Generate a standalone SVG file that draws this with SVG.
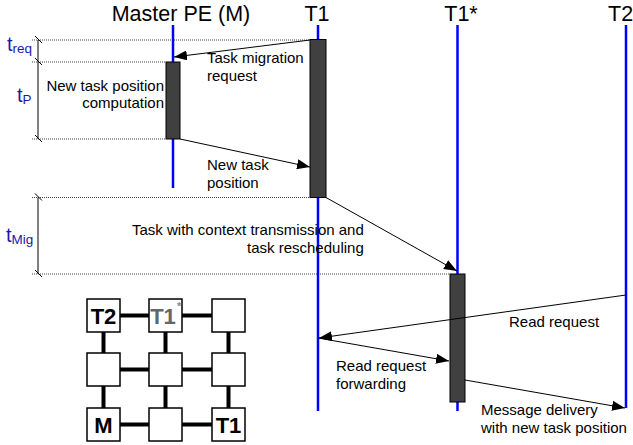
<svg xmlns="http://www.w3.org/2000/svg" width="633" height="445" viewBox="0 0 633 445">
  <defs>
    <style>
      .life { stroke: #0000ff; stroke-width: 2.5; fill: none; }
      .bar { fill: #404040; stroke: #000; stroke-width: 1; }
      .msg { stroke: #000; stroke-width: 1; fill: none; marker-end: url(#arrow); }
      .dot { stroke: #444; stroke-width: 1; stroke-dasharray: 1 1; fill: none; }
      .dim { stroke: #000; stroke-width: 1; fill: none; }
      .head { font-family: "Liberation Sans", Arial, sans-serif; font-size: 21.5px; fill: #000; }
      .lbl { font-family: "Liberation Sans", Arial, sans-serif; font-size: 15px; fill: #000; }
      .tm { font-family: "Liberation Sans", Arial, sans-serif; fill: #1a1aa8; }
      .tbig { font-size: 20px; }
      .tsub { font-size: 13.5px; }
      .link { stroke: #000; stroke-width: 4; }
      .pe { fill: #fff; stroke: #000; stroke-width: 1.5; }
      .pet { font-family: "Liberation Sans", Arial, sans-serif; font-size: 22px; font-weight: bold; fill: #000; text-anchor: middle; }
    </style>
    <marker id="arrow" viewBox="0 0 13 10" refX="13" refY="5" markerWidth="13" markerHeight="10" orient="auto" markerUnits="userSpaceOnUse">
      <path d="M0,0 L13,5 L0,10 z" fill="#000"/>
    </marker>
  </defs>

  <rect width="633" height="445" fill="#fff"/>

  <!-- time reference lines and dimension marks -->
  <g id="timing">
    <line class="dot" x1="32" y1="40" x2="310" y2="40"/>
    <line class="dot" x1="32" y1="62" x2="166" y2="62"/>
    <line class="dot" x1="32" y1="139" x2="166" y2="139"/>
    <line class="dot" x1="32" y1="197.5" x2="310" y2="197.5"/>
    <line class="dot" x1="32" y1="274" x2="450" y2="274"/>

    <line class="dim" x1="38" y1="40" x2="38" y2="62"/>
    <line class="dim" x1="38" y1="62" x2="38" y2="139"/>
    <line class="dim" x1="38" y1="197.5" x2="38" y2="274"/>

    <line class="dim" x1="35" y1="36" x2="42" y2="43"/>
    <line class="dim" x1="35" y1="58" x2="42" y2="65"/>
    <line class="dim" x1="35" y1="135" x2="42" y2="142"/>
    <line class="dim" x1="35" y1="193.5" x2="42" y2="200.5"/>
    <line class="dim" x1="35" y1="270" x2="42" y2="277"/>

    <text class="tm" x="7" y="51"><tspan class="tbig">t</tspan><tspan class="tsub" dy="2">req</tspan></text>
    <text class="tm" x="17" y="101.5"><tspan class="tbig">t</tspan><tspan class="tsub" dy="2">P</tspan></text>
    <text class="tm" x="6" y="241.5"><tspan class="tbig">t</tspan><tspan class="tsub" dy="2">Mig</tspan></text>
  </g>

  <!-- lifelines -->
  <g id="master">
    <text class="head" x="181" y="20.5" text-anchor="middle">Master PE (M)</text>
    <line class="life" x1="173" y1="25" x2="173" y2="188"/>
    <rect class="bar" x="166" y="62" width="14" height="77"/>
  </g>
  <g id="t1">
    <text class="head" x="317" y="20.5" text-anchor="middle">T1</text>
    <line class="life" x1="318" y1="25" x2="318" y2="411"/>
    <rect class="bar" x="310" y="39.5" width="16" height="158"/>
  </g>
  <g id="t1star">
    <text class="head" x="461" y="20.5" text-anchor="middle">T1*</text>
    <line class="life" x1="457.5" y1="25" x2="457.5" y2="411"/>
    <rect class="bar" x="450" y="274" width="15" height="128"/>
  </g>
  <g id="t2">
    <text class="head" x="608" y="20.5">T2</text>
    <line class="life" x1="626" y1="25" x2="626" y2="408"/>
  </g>

  <!-- messages -->
  <g id="connectors">
    <line class="msg" x1="310" y1="40" x2="174" y2="57"/>
    <line class="msg" x1="180" y1="139" x2="310" y2="167"/>
    <line class="msg" x1="326" y1="197.5" x2="457" y2="271"/>
    <line class="msg" x1="626" y1="295" x2="319" y2="338"/>
    <line class="msg" x1="318" y1="338" x2="449" y2="361"/>
    <line class="msg" x1="465" y1="380" x2="625" y2="408"/>
  </g>

  <!-- message and activity labels -->
  <g id="labels">
    <text class="lbl" x="207" y="63">Task migration</text>
    <text class="lbl" x="207" y="81">request</text>
    <text class="lbl" x="164" y="91" text-anchor="end">New task position</text>
    <text class="lbl" x="164" y="108" text-anchor="end">computation</text>
    <text class="lbl" x="207" y="170">New task</text>
    <text class="lbl" x="207" y="188">position</text>
    <text class="lbl" x="132" y="235">Task with context transmission and</text>
    <text class="lbl" x="247" y="252.5">task rescheduling</text>
    <text class="lbl" x="509" y="327">Read request</text>
    <text class="lbl" x="336" y="371">Read request</text>
    <text class="lbl" x="336" y="388.5">forwarding</text>
    <text class="lbl" x="481" y="415">Message delivery</text>
    <text class="lbl" x="481" y="433">with new task position</text>
  </g>

  <!-- 3x3 mesh of processing elements -->
  <g id="mesh">
    <g id="mesh-links">
      <line class="link" x1="103.5" y1="315.5" x2="228.5" y2="315.5"/>
      <line class="link" x1="103.5" y1="369.5" x2="228.5" y2="369.5"/>
      <line class="link" x1="103.5" y1="424.5" x2="228.5" y2="424.5"/>
      <line class="link" x1="103.5" y1="315.5" x2="103.5" y2="424.5"/>
      <line class="link" x1="165.5" y1="315.5" x2="165.5" y2="424.5"/>
      <line class="link" x1="228.5" y1="315.5" x2="228.5" y2="424.5"/>
    </g>
    <g id="pe-t2"><rect class="pe" x="87" y="299" width="33" height="33"/><text class="pet" x="103.5" y="323.5">T2</text></g>
    <g id="pe-t1star"><rect class="pe" x="149" y="299" width="33" height="33"/><text class="pet" x="163" y="323.5" style="fill:#666">T1</text><text x="177" y="310" font-family="Liberation Sans, Arial, sans-serif" font-size="11" font-weight="bold" fill="#888">*</text></g>
    <g id="pe-02"><rect class="pe" x="212" y="299" width="33" height="33"/></g>
    <g id="pe-10"><rect class="pe" x="87" y="353" width="33" height="33"/></g>
    <g id="pe-11"><rect class="pe" x="149" y="353" width="33" height="33"/></g>
    <g id="pe-12"><rect class="pe" x="212" y="353" width="33" height="33"/></g>
    <g id="pe-m"><rect class="pe" x="87" y="408" width="33" height="33"/><text class="pet" x="103.5" y="432.5">M</text></g>
    <g id="pe-21"><rect class="pe" x="149" y="408" width="33" height="33"/></g>
    <g id="pe-t1"><rect class="pe" x="212" y="408" width="33" height="33"/><text class="pet" x="228.5" y="432.5">T1</text></g>
  </g>
</svg>
